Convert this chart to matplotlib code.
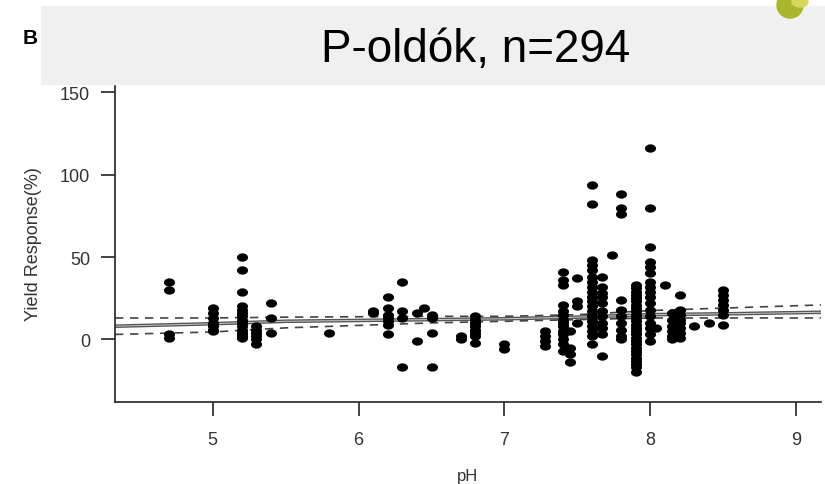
import matplotlib
matplotlib.use("Agg")
import matplotlib.pyplot as plt
import numpy as np
from matplotlib.path import Path
from matplotlib.patches import Rectangle, Ellipse

# pH levels and yield responses (%), one list per pH column
ph_levels = [4.7, 5.0, 5.2, 5.3, 5.4, 5.8, 6.1, 6.2, 6.3, 6.4, 6.45, 6.5,
             6.7, 6.8, 7.0, 7.28, 7.4, 7.45, 7.5, 7.6, 7.67, 7.74, 7.8,
             7.9, 8.0, 8.04, 8.1, 8.15, 8.2, 8.3, 8.4, 8.5]
responses = [
    [35, 30, 3, 1],
    [19, 16, 13, 10, 8, 6, 5],
    [50, 42, 29, 20, 18, 16, 14, 12, 10, 8, 6, 4, 3, 2, 1],
    [8, 6, 4, 2, 0, -3],
    [22, 13, 4],
    [4],
    [17, 16],
    [26, 19, 15, 13, 11, 9, 3],
    [35, 17, 13, -17],
    [16, -1],
    [19],
    [15, 13, 4, -17],
    [2, 0],
    [14, 12, 10, 8, 6, 4, 2, -2],
    [-3, -6],
    [5, 2, -1, -4],
    [41, 36, 33, 21, 17, 15, 12, 10, 8, 5, 3, 0, -3, -7],
    [5, -5, -9, -14],
    [37, 23, 20, 10],
    [94, 82, 48, 45, 42, 38, 35, 32, 29, 26, 23, 20, 17, 14, 11, 8, 5, 2, -3],
    [38, 32, 28, 26, 22, 17, 14, 10, 7, 3, -10],
    [51],
    [88, 80, 76, 24, 18, 14, 10, 6, 2, 0],
    [33, 31, 29, 27, 25, 23, 21, 19, 17, 15, 13, 11, 9, 7, 5, 3, 1, -1,
     -3, -5, -7, -9, -11, -13, -15, -17, -20],
    [116, 80, 56, 47, 44, 40, 35, 32, 29, 26, 22, 18, 14, 10, 7, 3, -1],
    [7],
    [33],
    [16, 12, 8, 5, 2, 0],
    [27, 18, 15, 12, 10, 7, 4, 1],
    [8],
    [10],
    [30, 27, 24, 21, 18, 15, 9],
]

# fitted line and confidence band
line_ph = [4.33, 5.0, 5.5, 6.5, 7.0, 7.5, 8.0, 8.5, 9.2]
fit = [8, 9.5, 11, 12, 12.5, 13.5, 15, 15.5, 16.5]
upper = [13, 13, 13.5, 14, 14, 15, 17.5, 19, 21]
lower = [3, 4.5, 7, 10, 11, 12, 13, 13, 13]

x = np.concatenate([[p] * len(r) for p, r in zip(ph_levels, responses)])
y = np.concatenate(responses)

plt.rcParams['font.family'] = ['Liberation Sans', 'DejaVu Sans']

fig = plt.figure(figsize=(8.25, 4.85), dpi=100)

# slide header
fig.patches.append(Rectangle((41 / 825, 1 - 85 / 485), 1, 78 / 485,
                             transform=fig.transFigure, color='#f0f0f0', zorder=0))
fig.patches.append(Ellipse((790 / 825, 1 - 6 / 485), 26 / 825, 26 / 485,
                           transform=fig.transFigure, color='#a9b52a', zorder=1))
fig.patches.append(Ellipse((800 / 825, 1 - 3 / 485), 16 / 825, 10 / 485,
                           transform=fig.transFigure, color='#d8d860', zorder=1))
fig.text(476 / 825, 1 - 50 / 485, 'P-oldók, n=294', fontsize=33,
         ha='center', va='center')
fig.text(30 / 825, 1 - 39 / 485, 'B', fontsize=15, fontweight='bold',
         ha='center', va='center')

ax = fig.add_axes([115 / 825, 82 / 485, 706 / 825, 318 / 485])
ax.patch.set_alpha(0)

t = np.linspace(0, 2 * np.pi, 30)
oval = Path(np.column_stack([np.cos(t), 0.75 * np.sin(t)]))
ax.scatter(x, y, s=64, marker=oval, color='black', linewidths=0, zorder=3)

ax.plot(line_ph, fit, color='#555555', lw=2.6, zorder=2)
ax.plot(line_ph, fit, color='#c8c8c8', lw=0.7, zorder=2)
ax.plot(line_ph, upper, color='#444444', lw=1.2, dashes=(5, 4), zorder=2)
ax.plot(line_ph, lower, color='#444444', lw=1.2, dashes=(5, 4), zorder=2)

ax.set_xlim(4.33, 9.17)
ax.set_ylim(-38, 155)
ax.set_xticks([5, 6, 7, 8, 9])
ax.set_yticks([0, 50, 100, 150])
ax.spines['top'].set_visible(False)
ax.spines['right'].set_visible(False)
for s in ['left', 'bottom']:
    ax.spines[s].set_color('#222222')
    ax.spines[s].set_linewidth(1.2)
ax.tick_params(direction='out', length=10, width=1.2, color='#222222',
               labelsize=13, labelcolor='#333333')
ax.tick_params(axis='y', pad=8)
ax.tick_params(axis='x', pad=11)

ax.set_ylabel('Yield Response(%)', fontsize=13, color='#333333', labelpad=13)
ax.set_xlabel('pH', fontsize=12, color='#333333', labelpad=14)

fig.savefig('out.png', dpi=100)
